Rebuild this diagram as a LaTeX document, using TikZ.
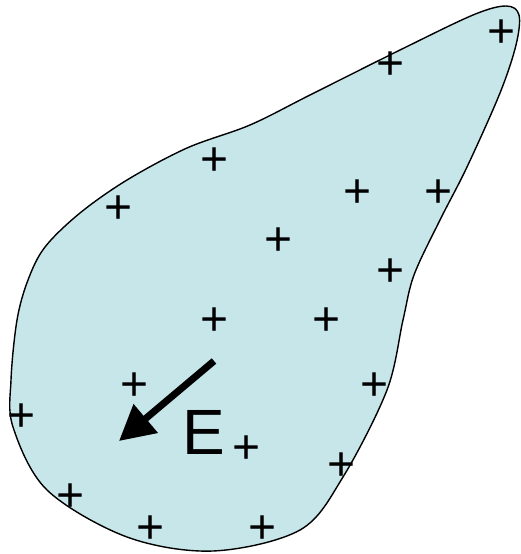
\documentclass[tikz,border=0pt]{standalone}
\usepackage{fontspec}
\setmainfont{Liberation Sans}
\usetikzlibrary{arrows.meta}

\definecolor{blobblue}{RGB}{198,230,233}

\begin{document}
\begin{tikzpicture}[
					x=1pt, y=-1pt,
					charge/.style={
						inner sep=0pt,
						yshift=-2.8pt,
						font=\fontsize{48}{48}\selectfont
					},
					fieldlabel/.style={
						inner sep=0pt,
						font=\fontsize{64}{64}\selectfont
					}
					]
					\useasboundingbox (0,0) rectangle (521,554);
					
					% Conductor outline
					\draw [line width=1.4pt, fill=blobblue] plot [smooth cycle, tension=0.55] coordinates {
						(506,6) (519,15) (516,45) (500,93) (467,167) (440,220) (414,275) (403,320)
						(387,390) (343,477) (300,530) (213,551) (127,537) (47,490) (13,427)
						(11,380) (17,320) (28,280) (45,247) (80,213) (127,180) (187,148)
						(250,125) (310,95) (400,50) (473,15)
					};
					
					% Charges
					\node (q1) [charge] at (502,31) {+};
					\node (q2) [charge] at (391,63) {+};
					\node (q3) [charge] at (215,159) {+};
					\node (q4) [charge] at (119,207) {+};
					\node (q5) [charge] at (358,191) {+};
					\node (q6) [charge] at (439,191) {+};
					\node (q7) [charge] at (279,239) {+};
					\node (q8) [charge] at (391,270) {+};
					\node (q9) [charge] at (215,319) {+};
					\node (q10) [charge] at (327,319) {+};
					\node (q11) [charge] at (135,384) {+};
					\node (q12) [charge] at (375,384) {+};
					\node (q13) [charge] at (22,415) {+};
					\node (q14) [charge] at (247,447) {+};
					\node (q15) [charge] at (342,464) {+};
					\node (q16) [charge] at (71,495) {+};
					\node (q17) [charge] at (151,527) {+};
					\node (q18) [charge] at (263,527) {+};
					
					% Field arrow and label
					\node (field) [fieldlabel] at (204,432) {E};
					\coordinate (Etail) at (214,361);
					\coordinate (Ehead) at (119,441);
					\draw [-{Triangle[length=35pt, width=36pt]}, line width=7pt] (Etail) -- (Ehead);
					
				\end{tikzpicture}
\end{document}
